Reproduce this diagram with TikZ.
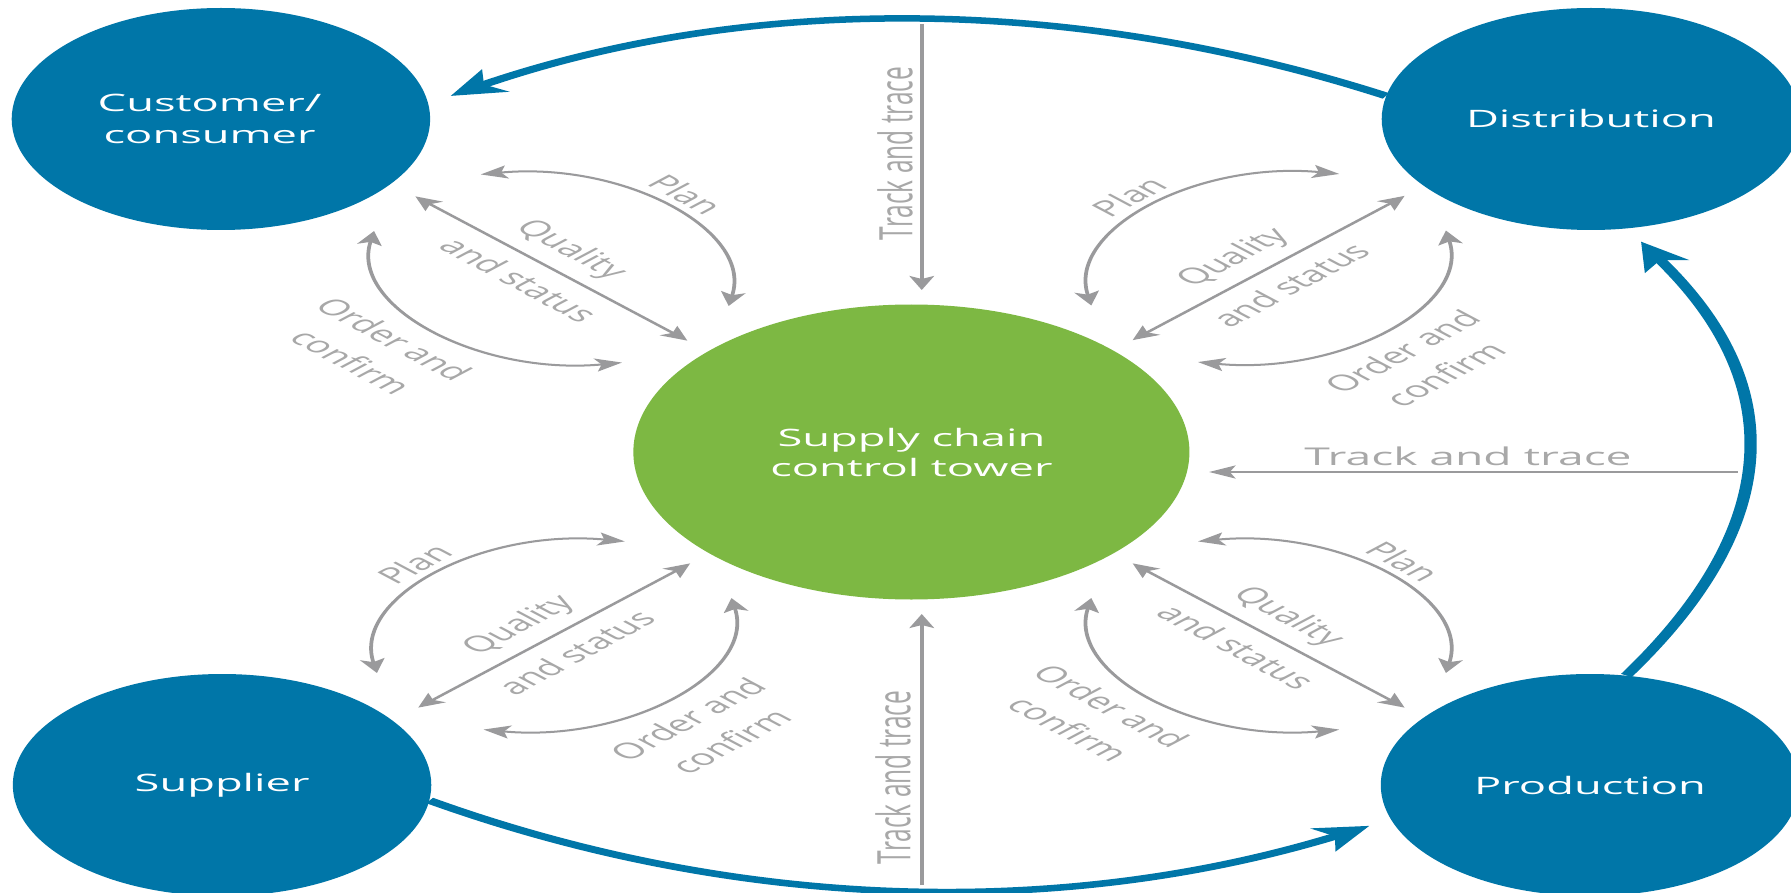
\documentclass[tikz,border=0pt]{standalone}
\usepackage{fontspec}
\setmainfont{Open Sans}
\usetikzlibrary{arrows.meta}
\definecolor{dblue}{HTML}{0076A8}
\definecolor{dgreen}{HTML}{7DB843}
\definecolor{arrowgray}{HTML}{9A9A9C}
\definecolor{labelgray}{HTML}{A8A8A8}
\tikzset{
  bignode/.style={circle, fill=dblue, text=white, minimum size=222pt, inner sep=0pt, align=center,
    font=\fontsize{24}{32}\selectfont},
  towernode/.style={circle, fill=dgreen, text=white, minimum size=295pt, inner sep=0pt, align=center,
    font=\fontsize{24}{30}\selectfont},
  flow/.style={draw=dblue, line width=6.5pt, -{Stealth[length=28pt,width=26pt,inset=7pt]}},
  info/.style={draw=arrowgray, line width=2pt,
    {Stealth[length=14pt,width=13pt,inset=3pt]}-{Stealth[length=14pt,width=13pt,inset=3pt]}},
  oneway/.style={draw=arrowgray, line width=2pt, -{Stealth[length=14pt,width=13pt,inset=3pt]}},
  lbl/.style={text=labelgray, font=\fontsize{22}{32}\selectfont, inner sep=0pt, align=center},
  biglbl/.style={lbl, font=\fontsize{24.5}{30}\selectfont},
  exchange/.pic={
    \coordinate (-q1) at (-102,0);
    \coordinate (-q2) at (102,0);
    \coordinate (-p1) at (-93,40);
    \coordinate (-p2) at (93,40);
    \coordinate (-o1) at (-93,-40);
    \coordinate (-o2) at (93,-40);
    \draw[info] (-q1) -- (-q2);
    \draw[info] (-p1) .. controls (-49,103) and (49,103) .. (-p2);
    \draw[info] (-o1) .. controls (-49,-103) and (49,-103) .. (-o2);
    \node[lbl] (-plan) at (-2,103) {Plan};
    \node[lbl] (-qual) at (-6,20) {Quality};
    \node[lbl] (-stat) at (-4,-20) {and status};
    \node[lbl] (-order) at (-9,-125) {Order and\\confirm};
  }
}
\begin{document}
\begin{tikzpicture}[x=1pt,y=1pt]
\useasboundingbox (0,0) rectangle (1791,-893);
\fill[white] (0,0) rectangle (1791,-893);
\begin{scope}[transform canvas={xscale=1.885}]
  % main nodes
  \node[bignode] (cust) at (117.2,-119) {Customer/\hspace*{12pt}\\consumer\hspace*{12pt}};
  \node[bignode] (dist) at (844,-119) {Distribution};
  \node[bignode] (sup) at (117.8,-785) {Supplier};
  \node[bignode] (prod) at (843.5,-785) {Production};
  \node[towernode] (tower) at (483.5,-452) {Supply chain\\control tower};
  % blue flows
  \draw[flow, shorten >=14pt] (dist.168) to[bend right=32] (cust.8);
  \draw[flow, shorten >=15pt] (prod.80) to[bend right=29] (dist.-80);
  \draw[flow, shorten >=13pt] (sup.-8) to[bend right=32] (prod.198);
  % track and trace
  \coordinate (ttTs) at (489,-24);
  \coordinate (ttTe) at (489,-290);
  \draw[oneway] (ttTs) -- (ttTe);
  \node[biglbl, rotate=90, anchor=base] (ttTl) at (484,-153.5) {Track and trace};
  \coordinate (ttBs) at (489,-885);
  \coordinate (ttBe) at (489,-614);
  \draw[oneway] (ttBs) -- (ttBe);
  \node[biglbl, rotate=90, anchor=base] (ttBl) at (483,-777.5) {Track and trace};
  \coordinate (ttRs) at (922,-472);
  \coordinate (ttRe) at (641.4,-472);
  \draw[oneway] (ttRs) -- (ttRe);
  \node[biglbl, anchor=base] (ttRl) at (778.8,-465) {Track and trace};
  % exchange groups
  \pic[rotate=-45, transform shape] (g1) at (292.5,-268.5) {exchange};
  \pic[rotate=45, transform shape] (g2) at (673,-268) {exchange};
  \pic[rotate=45, transform shape] (g3) at (294,-635.5) {exchange};
  \pic[rotate=-45, transform shape] (g4) at (673,-635.5) {exchange};
\end{scope}
\end{tikzpicture}
\end{document}
